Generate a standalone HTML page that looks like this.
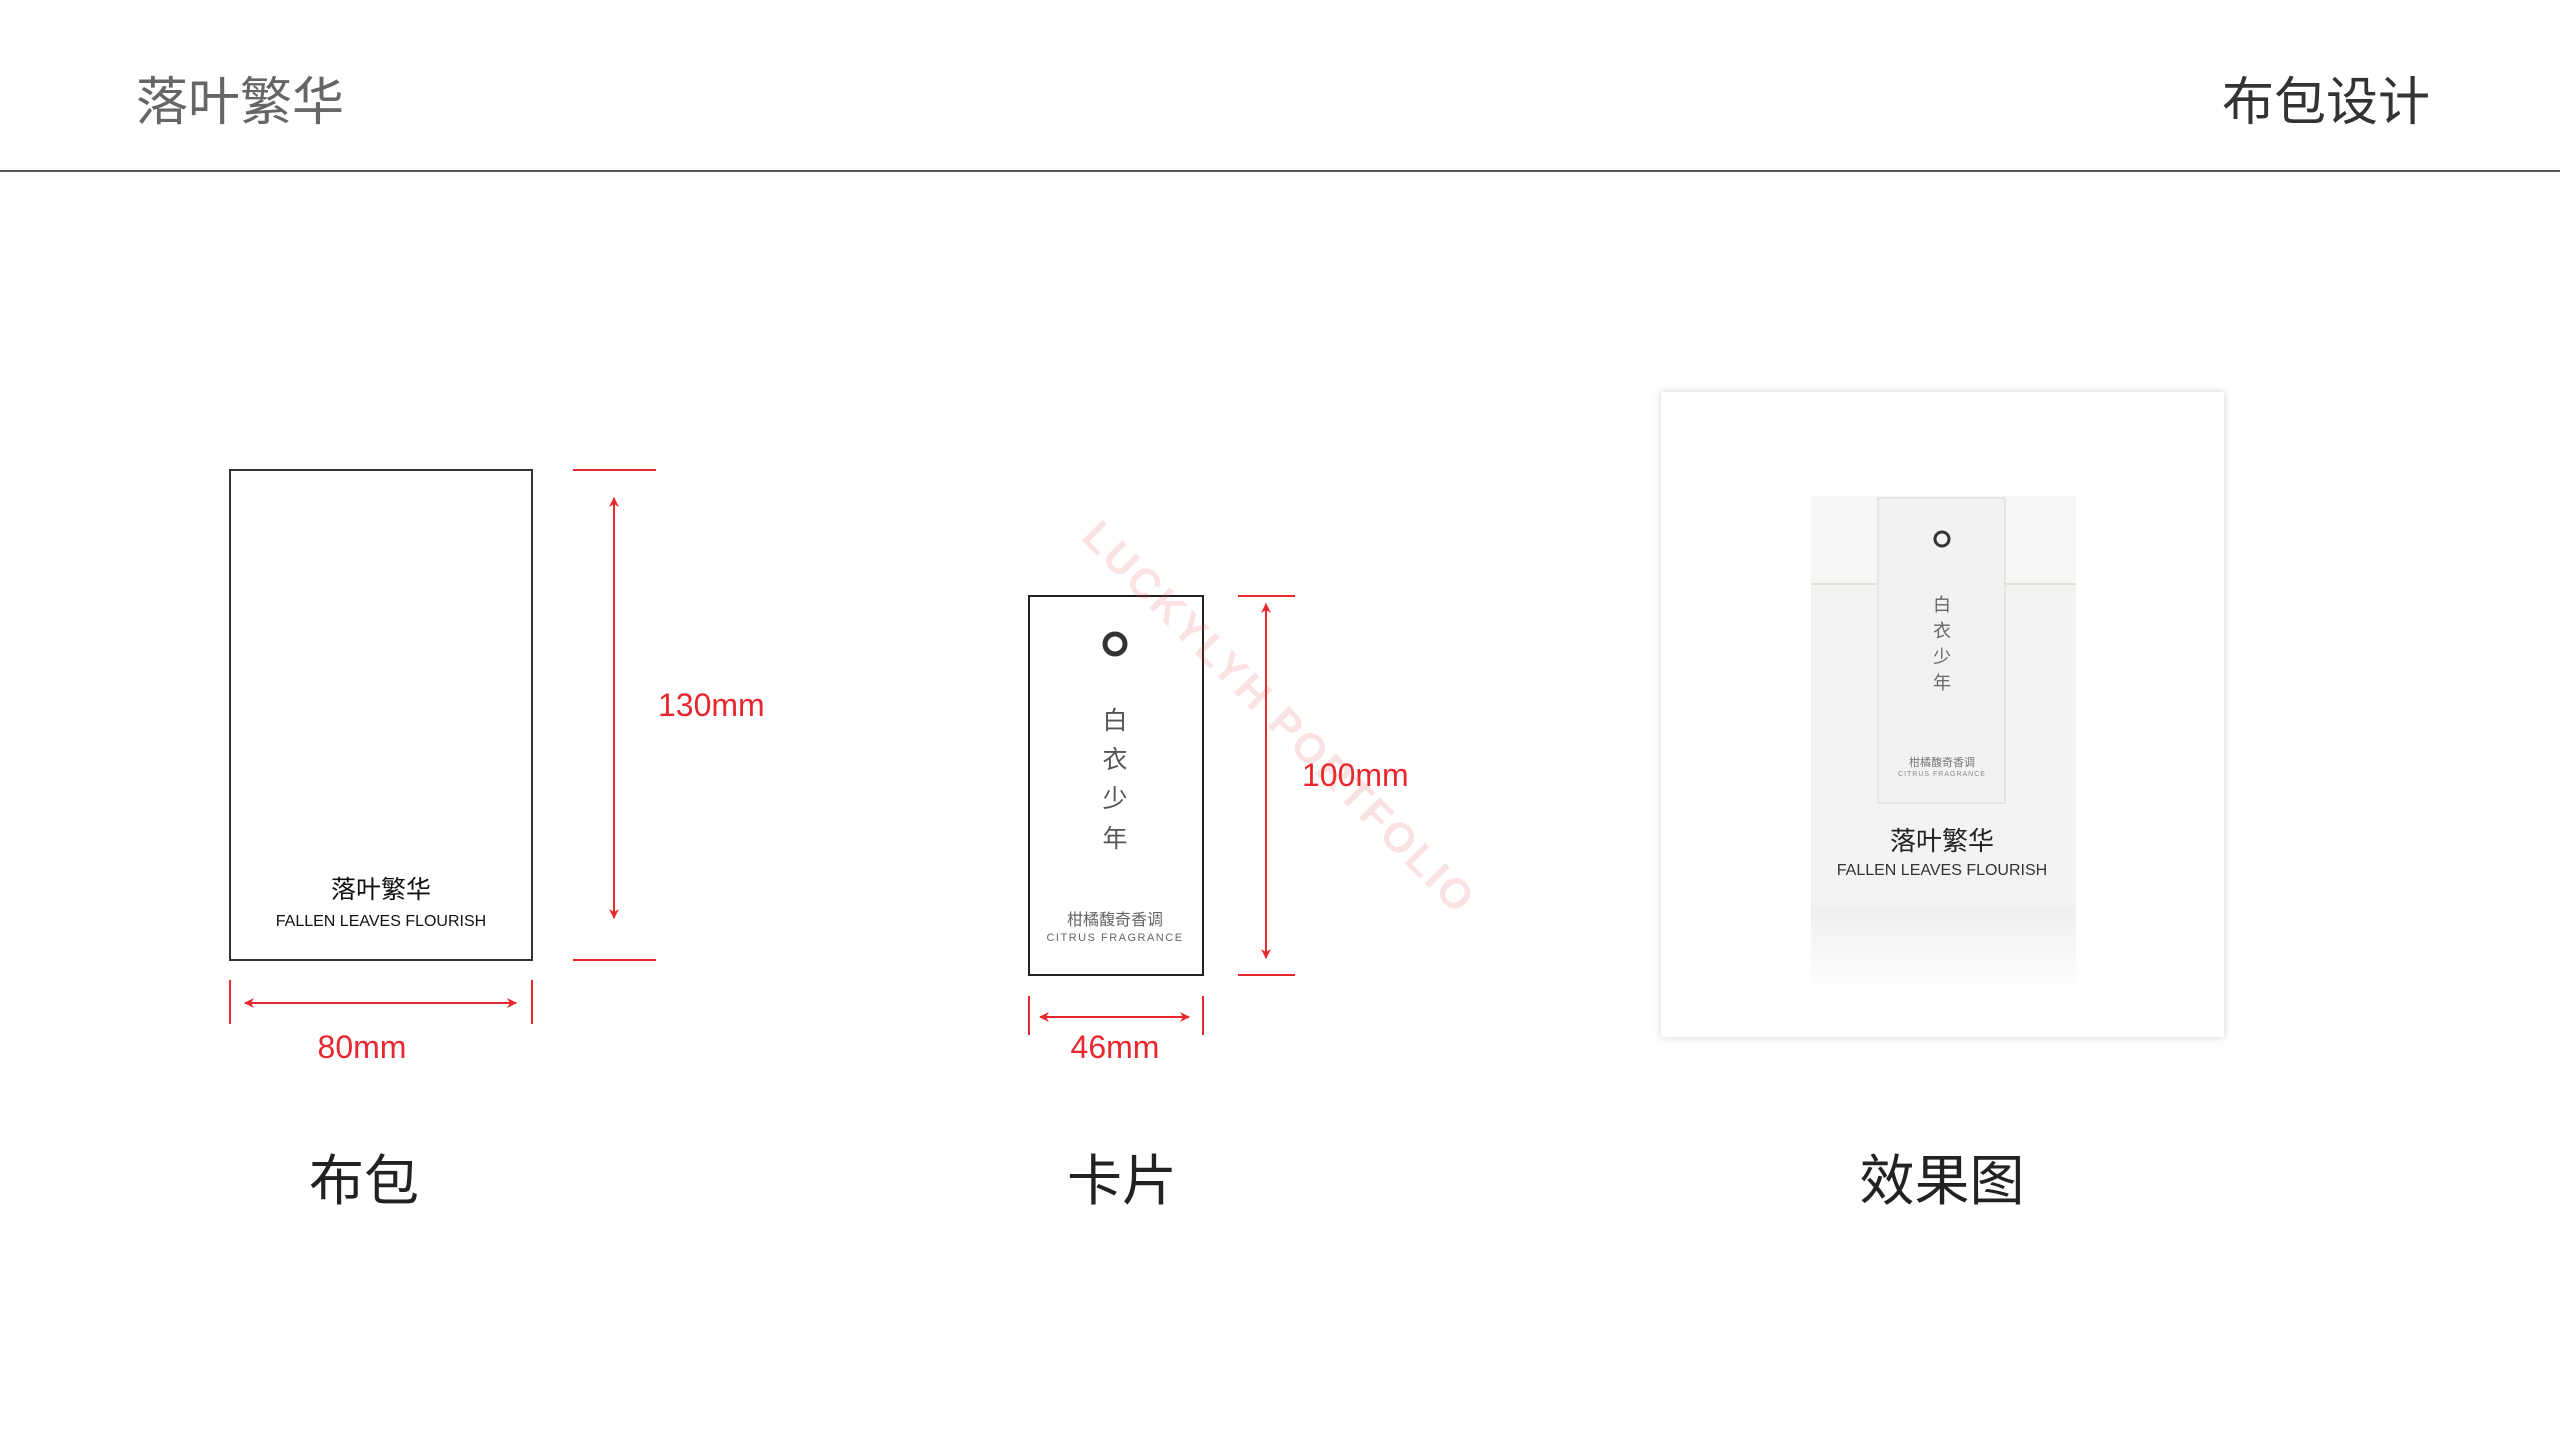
<!DOCTYPE html>
<html><head><meta charset="utf-8"><style>
html,body{margin:0;padding:0;background:#fff;}
body{width:2560px;height:1440px;overflow:hidden;position:relative;}
svg{position:absolute;left:0;top:0;}
</style></head><body>
<svg width="2560" height="1440" viewBox="0 0 2560 1440" xmlns="http://www.w3.org/2000/svg" font-family="'Liberation Sans','Noto Sans CJK SC',sans-serif">
<defs>
<marker id="ar" markerWidth="10" markerHeight="10" refX="9" refY="5" orient="auto-start-reverse" markerUnits="userSpaceOnUse" viewBox="0 0 10 10"><path d="M0,0 L10,5 L0,10 L3,5 z" fill="#e8282e"/></marker>
<linearGradient id="refl" x1="0" y1="0" x2="0" y2="1"><stop offset="0" stop-color="#efefef"/><stop offset="1" stop-color="#fff"/></linearGradient>
<filter id="sh" x="-5%" y="-5%" width="110%" height="110%"><feDropShadow dx="0" dy="0" stdDeviation="4" flood-color="#000" flood-opacity="0.18"/></filter>
</defs>
<text x="136" y="120" font-size="52" fill="#666">落叶繁华</text>
<text x="2430" y="120" font-size="52" fill="#333" text-anchor="end">布包设计</text>
<rect x="0" y="170" width="2560" height="2" fill="#555"/>

<rect x="230" y="470" width="302" height="490" fill="none" stroke="#333" stroke-width="2"/>
<text x="381" y="898" font-size="25" fill="#111" text-anchor="middle">落叶繁华</text>
<text x="381" y="926" font-size="16" fill="#111" text-anchor="middle">FALLEN LEAVES FLOURISH</text>
<g stroke="#e8282e" stroke-width="2" fill="none">
<line x1="573" y1="470" x2="656" y2="470"/><line x1="573" y1="960" x2="656" y2="960"/>
<line x1="614" y1="498" x2="614" y2="918" marker-start="url(#ar)" marker-end="url(#ar)"/>
<line x1="230" y1="980" x2="230" y2="1024"/><line x1="532" y1="980" x2="532" y2="1024"/>
<line x1="245" y1="1003" x2="516" y2="1003" marker-start="url(#ar)" marker-end="url(#ar)"/>
</g>
<text x="658" y="716" font-size="32" fill="#e8282e">130mm</text>
<text x="362" y="1058" font-size="32" fill="#e8282e" text-anchor="middle">80mm</text>
<text x="364" y="1200" font-size="55" fill="#222" text-anchor="middle">布包</text>

<rect x="1029" y="596" width="174" height="379" fill="none" stroke="#222" stroke-width="2"/>
<circle cx="1115" cy="644" r="10" fill="none" stroke="#333" stroke-width="5"/>
<g font-size="25" fill="#555" text-anchor="middle">
<text x="1115" y="729">白</text><text x="1115" y="768">衣</text><text x="1115" y="807">少</text><text x="1115" y="847">年</text>
</g>
<text x="1115" y="925" font-size="16" fill="#666" text-anchor="middle">柑橘馥奇香调</text>
<text x="1115" y="941" font-size="11" fill="#666" text-anchor="middle" letter-spacing="1.5">CITRUS FRAGRANCE</text>
<g stroke="#e8282e" stroke-width="2" fill="none">
<line x1="1238" y1="596" x2="1295" y2="596"/><line x1="1238" y1="975" x2="1295" y2="975"/>
<line x1="1266" y1="604" x2="1266" y2="958" marker-start="url(#ar)" marker-end="url(#ar)"/>
<line x1="1029" y1="996" x2="1029" y2="1035"/><line x1="1203" y1="996" x2="1203" y2="1035"/>
<line x1="1040" y1="1017" x2="1189" y2="1017" marker-start="url(#ar)" marker-end="url(#ar)"/>
</g>
<text x="1302" y="786" font-size="32" fill="#e8282e">100mm</text>
<text x="1115" y="1058" font-size="32" fill="#e8282e" text-anchor="middle">46mm</text>
<text x="1122" y="1200" font-size="55" fill="#222" text-anchor="middle">卡片</text>

<text x="0" y="0" transform="translate(1277,720) rotate(45)" font-size="42" font-weight="bold" fill="#e84a4a" fill-opacity="0.16" text-anchor="middle" letter-spacing="3" dominant-baseline="middle">LUCKYLYH PORTFOLIO</text>

<rect x="1661" y="392" width="563" height="645" fill="#fff" filter="url(#sh)"/>
<rect x="1811" y="906" width="265" height="90" fill="url(#refl)"/>
<rect x="1811" y="496" width="265" height="410" fill="#f3f3f1"/>
<rect x="1811" y="496" width="265" height="88" fill="#f6f6f5"/>
<line x1="1811" y1="584" x2="2076" y2="584" stroke="#e0e0dc" stroke-width="2"/>
<rect x="1878" y="498" width="127" height="305" fill="#f2f2f0" stroke="#e0e0e0" stroke-width="1.5"/>
<circle cx="1942" cy="539" r="7" fill="none" stroke="#333" stroke-width="3"/>
<g font-size="18" fill="#666" text-anchor="middle">
<text x="1942" y="611">白</text><text x="1942" y="637">衣</text><text x="1942" y="663">少</text><text x="1942" y="689">年</text>
</g>
<text x="1942" y="766" font-size="11" fill="#777" text-anchor="middle">柑橘馥奇香调</text>
<text x="1942" y="776" font-size="7" fill="#888" text-anchor="middle" letter-spacing="1">CITRUS FRAGRANCE</text>
<text x="1942" y="850" font-size="26" fill="#222" text-anchor="middle">落叶繁华</text>
<text x="1942" y="875" font-size="16" fill="#333" text-anchor="middle">FALLEN LEAVES FLOURISH</text>
<text x="1942" y="1200" font-size="55" fill="#222" text-anchor="middle">效果图</text>
</svg>
</body></html>
